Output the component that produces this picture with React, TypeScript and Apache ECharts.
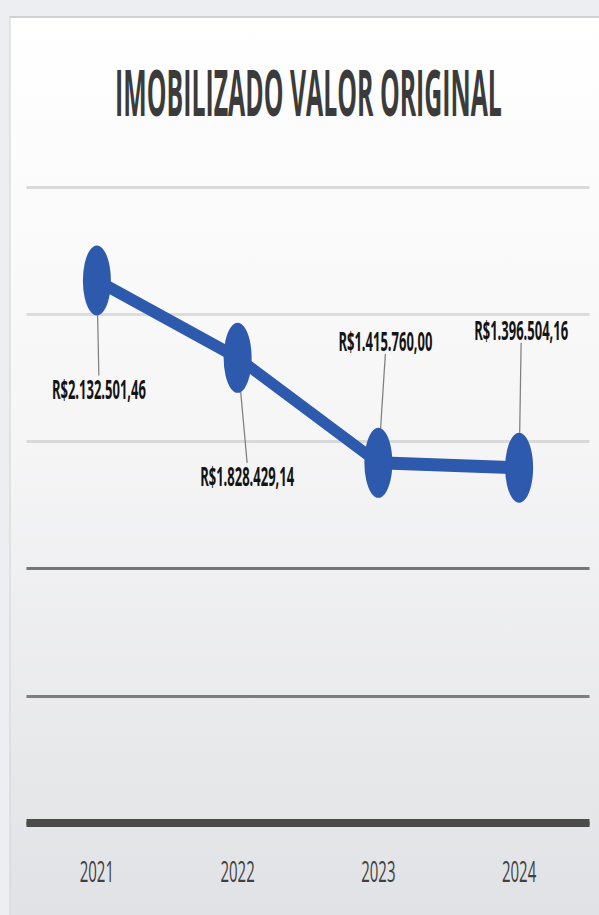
import React, { useEffect, useRef } from "react";
import * as echarts from "echarts";

// ---- data ----
const years = ["2021", "2022", "2023", "2024"];
const values = [2132501.46, 1828429.14, 1415760.0, 1396504.16];
const yMin = 0;
const yMax = 2500000;
const yInterval = 500000;
const titleText = "IMOBILIZADO VALOR ORIGINAL";

// ---- layout (chart drawn wide, then squeezed horizontally like the reference) ----
const SQUEEZE = 0.5;
const W = Math.round(599 / SQUEEZE);
const H = 915;
const labelDx = [4, 19, 14, 4];
const labelDy = [108, 118, -122, -138];

function formatBRL(v: number): string {
  const cents = Math.round(v * 100);
  const intPart = Math.floor(cents / 100).toString();
  const dec = (cents % 100).toString().padStart(2, "0");
  const withDots = intPart.replace(/\B(?=(\d{3})+(?!\d))/g, ".");
  return "R$" + withDots + "," + dec;
}

export default function App() {
  const ref = useRef<HTMLDivElement>(null);

  useEffect(() => {
    if (!ref.current) return;
    const chart = echarts.init(ref.current, null, { renderer: "svg" });
    const blue = "#2e5aad";
    chart.setOption({
      animation: false,
      backgroundColor: "#eceef1",
      graphic: [
        {
          type: "rect",
          z: -10,
          silent: true,
          shape: { x: 20, y: 17, width: W - 18, height: H - 15 },
          style: {
            fill: new echarts.graphic.LinearGradient(0, 0, 0, 1, [
              { offset: 0, color: "#ffffff" },
              { offset: 0.45, color: "#f6f6f7" },
              { offset: 1, color: "#e1e2e5" },
            ]),
            stroke: "#cfd1d4",
            lineWidth: 2,
          },
        },
        {
          type: "text",
          z: 10,
          x: 617,
          y: 90,
          scaleX: 0.765,
          style: {
            text: titleText,
            fontFamily: "Open Sans",
            fontWeight: "bold",
            fontSize: 65,
            fill: "#3b3b3b",
            textAlign: "center",
            textVerticalAlign: "middle",
          },
        },
      ],
      grid: { left: 53, right: 19, top: 187, bottom: 92, containLabel: false },
      xAxis: {
        type: "category",
        data: years,
        boundaryGap: true,
        axisTick: { show: false },
        axisLine: { show: true, lineStyle: { color: "#4b4c4a", width: 8, cap: "butt" } },
        axisLabel: {
          margin: 33,
          fontFamily: "Open Sans",
          fontSize: 30,
          color: "#404040",
        },
      },
      yAxis: {
        type: "value",
        min: yMin,
        max: yMax,
        interval: yInterval,
        axisLabel: { show: false },
        axisLine: { show: false },
        axisTick: { show: false },
        splitLine: {
          show: true,
          lineStyle: {
            width: 3,
            color: ["#4b4c4a", "#7d7e81", "#75767a", "#d9d9db", "#dcdcde", "#dadadc"],
          },
        },
      },
      series: [
        {
          type: "line",
          data: values,
          symbol: "circle",
          symbolSize: [56, 70],
          lineStyle: { color: blue, width: 13 },
          itemStyle: { color: blue },
          label: {
            show: true,
            position: "inside",
            formatter: (p: any) => formatBRL(p.value as number),
            fontFamily: "Open Sans",
            fontWeight: "bold",
            fontSize: 26,
            color: "#141414",
            padding: [19, 0, 19, 0],
          },
          labelLine: {
            show: true,
            lineStyle: { color: "#808080", width: 2.5 },
          },
          labelLayout: (params: any) => ({
            dx: labelDx[params.dataIndex],
            dy: labelDy[params.dataIndex],
          }),
        },
      ],
    });
    return () => chart.dispose();
  }, []);

  return (
    <div
      style={{
        position: "fixed",
        left: 0,
        top: 0,
        width: 599,
        height: 915,
        overflow: "hidden",
      }}
    >
      <div
        ref={ref}
        style={{
          width: W,
          height: H,
          transform: `scaleX(${SQUEEZE})`,
          transformOrigin: "0 0",
        }}
      />
    </div>
  );
}
